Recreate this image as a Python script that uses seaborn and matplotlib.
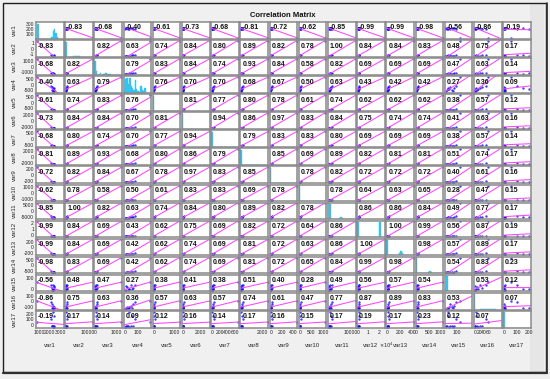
import numpy as np
import pandas as pd
import matplotlib
matplotlib.use("Agg")
import matplotlib.pyplot as plt
import seaborn as sns
from matplotlib.patches import Rectangle
from matplotlib.lines import Line2D

sns.set_style("white")
plt.rcParams["font.family"] = ["Liberation Sans", "DejaVu Sans"]

# ---------------- data ----------------
names = [f"var{i}" for i in range(1, 18)]

# upper-triangle correlations, row i lists r(var_i, var_j) for j > i
corr_rows = [
    [-0.83, -0.68, -0.40, -0.61, -0.73, -0.68, -0.81, -0.72, -0.62, -0.85, -0.99, -0.99, -0.98, -0.56, -0.86, -0.19],
    [0.82, 0.63, 0.74, 0.84, 0.80, 0.89, 0.82, 0.78, 1.00, 0.84, 0.84, 0.83, 0.48, 0.75, 0.17],
    [0.79, 0.83, 0.84, 0.74, 0.93, 0.84, 0.58, 0.82, 0.69, 0.69, 0.69, 0.47, 0.63, 0.14],
    [0.76, 0.70, 0.70, 0.68, 0.67, 0.50, 0.63, 0.43, 0.42, 0.42, 0.27, 0.36, 0.09],
    [0.81, 0.77, 0.80, 0.78, 0.61, 0.74, 0.62, 0.62, 0.62, 0.38, 0.57, 0.12],
    [0.94, 0.86, 0.97, 0.83, 0.84, 0.75, 0.74, 0.74, 0.41, 0.63, 0.16],
    [0.79, 0.83, 0.83, 0.80, 0.69, 0.69, 0.69, 0.38, 0.57, 0.14],
    [0.85, 0.69, 0.89, 0.82, 0.81, 0.81, 0.51, 0.74, 0.17],
    [0.78, 0.82, 0.72, 0.72, 0.72, 0.40, 0.61, 0.16],
    [0.78, 0.64, 0.63, 0.65, 0.28, 0.47, 0.15],
    [0.86, 0.86, 0.84, 0.49, 0.77, 0.17],
    [1.00, 0.99, 0.56, 0.87, 0.19],
    [0.98, 0.57, 0.89, 0.17],
    [0.54, 0.83, 0.23],
    [0.53, 0.12],
    [0.07],
]

# axis ranges of each variable
range_lo = [700, -500, -60, -15, -60, -100, -20, -100, -20, -40, -500, -1000, -20, -40, -10, -4, -8]
range_hi = [3300, 12500, 1300, 200, 1300, 3000, 700, 2500, 480, 1150, 12500, 26000, 430, 1100, 250, 120, 215]

# bottom tick values / labels per variable
x_ticks = [[1000, 2000, 3000], [10000], [0, 1000], [0, 100], [0, 1000], [0, 2000],
           [0, 200, 400, 600], [2000], [0, 200, 400], [0, 500, 1000], [10000],
           [0, 10000, 20000], [0, 200, 400], [0, 500, 1000], [100], [0, 20, 40, 60], [0, 100, 200]]
x_tick_labels = [["1000", "2000", "3000"], ["10000"], ["0", "1000"], ["0", "100"], ["0", "1000"],
                 ["0", "2000"], ["0", "200", "400", "600"], ["2000"], ["0", "200", "400"],
                 ["0", "500", "1000"], ["10000"], ["0", "1", "2"], ["0", "200", "400"],
                 ["0", "500", "1000"], ["100"], ["0", "20", "40", "60"], ["0", "100", "200"]]

# left tick labels per row (top to bottom)
y_tick_labels = [["300", "200", "100"], ["1", "0", "-1"], ["1000", "0", "-1000"], ["500", "0", "-500"],
                 ["500", "0", "-500"], ["2000", "0", "-2000"], ["500", "0", "-500"], ["2000", "0", "-2000"],
                 ["200", "0", "-200"], ["1000", "0", "-1000"], ["5000", "0", "-5000"], ["2", "1", "0"],
                 ["200", "0", "-200"], ["500", "0", "-500"], ["100", "0"], ["100", "0", "-100"],
                 ["200", "100", "0"]]

# representative observations (fraction of each variable's range)
samples = [
    [0.60, 0.64, 0.62, 0.66, 0.59, 0.63, 0.61, 0.62, 0.65, 0.58, 0.56, 0.02],
    [0.01, 0.02, 0.01, 0.03, 0.02, 0.03, 0.04, 0.02, 0.05, 0.06, 0.08, 1.00],
    [0.02, 0.01, 0.03, 0.02, 0.04, 0.03, 0.05, 0.06, 0.04, 0.08, 0.10, 0.98],
    [0.05, 0.08, 0.10, 0.12, 0.15, 0.18, 0.20, 0.25, 0.30, 0.35, 0.40, 0.95],
    [0.01, 0.02, 0.02, 0.03, 0.02, 0.04, 0.03, 0.05, 0.04, 0.06, 0.07, 0.97],
    [0.01, 0.01, 0.02, 0.02, 0.03, 0.03, 0.02, 0.04, 0.05, 0.04, 0.06, 1.00],
    [0.02, 0.03, 0.02, 0.04, 0.03, 0.05, 0.04, 0.06, 0.05, 0.07, 0.09, 0.96],
    [0.01, 0.02, 0.03, 0.02, 0.03, 0.04, 0.03, 0.05, 0.06, 0.05, 0.08, 1.00],
    [0.02, 0.02, 0.03, 0.03, 0.04, 0.04, 0.05, 0.05, 0.06, 0.07, 0.09, 0.99],
    [0.01, 0.02, 0.02, 0.03, 0.03, 0.04, 0.04, 0.05, 0.05, 0.06, 0.07, 0.95],
    [0.03, 0.04, 0.05, 0.05, 0.06, 0.07, 0.08, 0.09, 0.10, 0.12, 0.15, 1.00],
    [0.02, 0.02, 0.03, 0.03, 0.04, 0.04, 0.05, 0.05, 0.06, 0.06, 0.08, 1.00],
    [0.02, 0.03, 0.03, 0.04, 0.04, 0.05, 0.05, 0.06, 0.06, 0.07, 0.09, 0.99],
    [0.02, 0.02, 0.03, 0.03, 0.04, 0.05, 0.05, 0.06, 0.07, 0.08, 0.10, 0.98],
    [0.02, 0.30, 0.05, 0.25, 0.08, 0.15, 0.10, 0.35, 0.12, 0.20, 0.40, 0.55],
    [0.02, 0.05, 0.03, 0.10, 0.04, 0.15, 0.06, 0.20, 0.08, 0.30, 0.45, 0.50],
    [0.02, 0.03, 0.05, 0.04, 0.06, 0.03, 0.95, 0.05, 0.70, 0.04, 0.50, 0.30],
]

# histogram counts (20 equal bins across each variable's range)
hist_counts = [
    [0, 300, 0, 0, 0, 0, 0, 0, 0, 0, 0, 40, 150, 200, 120, 30, 0, 0, 0, 0],
    [300, 0, 0, 0, 0, 0, 8, 10, 12, 6, 4, 0, 0, 0, 0, 0, 0, 0, 0, 0],
    [280, 80, 0, 0, 30, 0, 20, 15, 25, 20, 20, 15, 0, 0, 0, 0, 0, 0, 0, 0],
    [30, 280, 300, 180, 300, 140, 100, 60, 250, 80, 40, 20, 130, 60, 30, 90, 0, 0, 0, 0],
    [300, 0, 0, 0, 0, 0, 0, 0, 0, 0, 3, 4, 2, 0, 0, 0, 0, 0, 0, 0],
    [300, 0, 0, 2, 3, 2, 1, 2, 3, 1, 0, 0, 0, 0, 0, 0, 0, 0, 0, 0],
    [300, 0, 3, 5, 4, 3, 2, 4, 3, 1, 0, 0, 0, 0, 0, 0, 0, 0, 0, 0],
    [300, 0, 0, 0, 0, 0, 0, 5, 6, 4, 5, 6, 4, 5, 3, 4, 0, 0, 0, 0],
    [300, 0, 0, 3, 4, 3, 4, 3, 4, 3, 4, 3, 2, 0, 0, 0, 0, 0, 0, 0],
    [300, 0, 4, 3, 3, 2, 2, 1, 1, 1, 0, 0, 0, 0, 0, 0, 0, 0, 0, 0],
    [0, 300, 0, 0, 0, 0, 0, 10, 20, 35, 25, 10, 0, 0, 0, 0, 0, 0, 0, 0],
    [300, 0, 0, 0, 0, 0, 0, 0, 0, 0, 0, 0, 0, 0, 0, 0, 300, 0, 0, 0],
    [300, 0, 0, 0, 0, 0, 0, 0, 0, 40, 90, 40, 0, 0, 0, 0, 0, 0, 0, 0],
    [300, 0, 0, 0, 0, 0, 0, 0, 0, 20, 40, 25, 10, 0, 0, 0, 0, 0, 0, 0],
    [5, 300, 2, 1, 0, 0, 0, 0, 0, 0, 0, 0, 0, 0, 0, 0, 0, 0, 0, 0],
    [300, 0, 0, 0, 2, 3, 2, 3, 2, 3, 2, 3, 2, 1, 2, 1, 0, 0, 0, 0],
    [300, 0, 0, 0, 0, 0, 0, 0, 0, 0, 0, 0, 0, 0, 0, 0, 0, 0, 0, 0],
]

# ---------------- build ----------------
n = len(names)
R = np.eye(n)
for i, row in enumerate(corr_rows):
    for k, r in enumerate(row):
        j = i + 1 + k
        R[i, j] = r
        R[j, i] = r

lo = np.array(range_lo, float)
hi = np.array(range_hi, float)
vals = [lo[v] + np.array(samples[v]) * (hi[v] - lo[v]) for v in range(n)]

W, H = 550, 379
fig = plt.figure(figsize=(W / 100, H / 100), dpi=100)
fig.patch.set_facecolor("#f0f0f0")

# window-like frame
fig.add_artist(Rectangle((530 / W, 1 - 372 / H), 14 / W, 369 / H, transform=fig.transFigure,
                         facecolor="#e6e6e6", edgecolor="none", zorder=0))
fig.add_artist(Rectangle((3 / W, 1 - 372 / H), 543 / W, 369 / H, transform=fig.transFigure,
                         facecolor="none", edgecolor="#202020", lw=1.0, zorder=5))
fig.add_artist(Line2D([3 / W, 547 / W], [1 - 373 / H, 1 - 373 / H], transform=fig.transFigure,
                      color="#303030", lw=1.6, zorder=5))
fig.add_artist(Line2D([547 / W, 547 / W], [1 - 373 / H, 1 - 3 / H], transform=fig.transFigure,
                      color="#303030", lw=1.2, zorder=5))

x0, y0 = 36.0, 22.0
pw, ph = 29.2, 18.06
aw, ah = 27.6, 16.6

tick_fs = 3.6
lab_fs = 4.3
line_col = "#ff44ff"
hist_col = "#2fc4f2"
edge_col = "#8a8a8a"

for i in range(n):
    for j in range(n):
        left = (x0 + j * pw) / W
        bottom = 1 - (y0 + i * ph + ah) / H
        ax = fig.add_axes([left, bottom, aw / W, ah / H])
        ax.set_facecolor("white")
        ax.set_xlim(lo[j], hi[j])
        if i == j:
            nb = len(hist_counts[i])
            width = (hi[i] - lo[i]) / nb
            hdf = pd.DataFrame({
                "center": lo[i] + width * (np.arange(nb) + 0.5),
                "count": np.array(hist_counts[i], float),
            })
            sns.histplot(data=hdf, x="center", weights="count", bins=nb,
                         binrange=(lo[i], hi[i]), ax=ax,
                         color=hist_col, edgecolor=hist_col, linewidth=0.3, alpha=1.0)
            ax.set_ylim(0, 330)
            ax.set_xlim(lo[j], hi[j])
        else:
            sns.regplot(x=vals[j], y=vals[i], ax=ax, ci=None, truncate=False,
                        scatter_kws=dict(s=3, color="#1010ff", linewidths=0),
                        line_kws=dict(color=line_col, lw=0.75))
            pad = 0.03 * (hi[i] - lo[i])
            ax.set_ylim(lo[i] - pad, hi[i] + pad)
            ax.text(0.07, 0.64, f"{R[i, j]:.2f}", transform=ax.transAxes, ha="left", va="center",
                    fontsize=5.0, fontweight="bold", color="#111111")
        for s in ax.spines.values():
            s.set_color(edge_col)
            s.set_linewidth(1.1)
        ax.tick_params(length=0, pad=1.5, labelsize=tick_fs, colors="#222222")
        ax.set_xlabel("")
        ax.set_ylabel("")
        if i == n - 1:
            ax.set_xticks(x_ticks[j])
            ax.set_xticklabels(x_tick_labels[j])
            ax.set_xlabel(names[j], fontsize=lab_fs)
            ax.xaxis.set_label_coords(0.5, -0.95)
            if names[j] == "var12":
                ax.text(0.80, -1.05, r"$\times10^4$", transform=ax.transAxes,
                        ha="left", va="center", fontsize=3.6, color="#222222")
        else:
            ax.set_xticks([])
        if j == 0:
            labs = y_tick_labels[i]
            if i == 0:
                ax.set_yticks([300, 200, 100])
                ax.set_yticklabels(labs)
            else:
                fr = np.linspace(0.85, 0.12, len(labs))
                ax.set_yticks(lo[i] + fr * (hi[i] - lo[i]))
                ax.set_yticklabels(labs)
            ax.set_ylabel(names[i], fontsize=lab_fs)
            ax.yaxis.set_label_coords(-0.68, 0.5)
        else:
            ax.set_yticks([])

fig.text(283 / W, 1 - 15.5 / H, "Correlation Matrix", ha="center", va="center",
         fontsize=5.5, fontweight="bold", color="#111111")

fig.savefig("out.png", dpi=100, facecolor=fig.get_facecolor())
